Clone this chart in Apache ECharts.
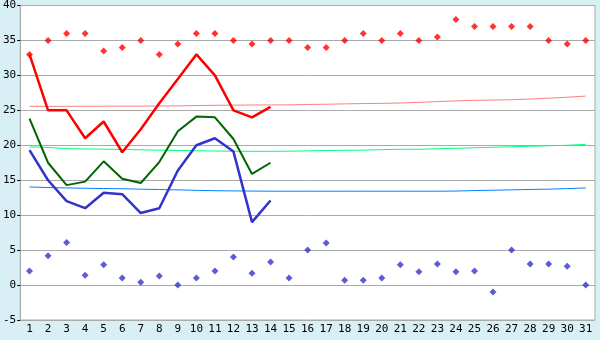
<!DOCTYPE html>
<html><head><meta charset="utf-8">
<script src="https://cdn.jsdelivr.net/npm/echarts@6/dist/echarts.min.js"></script>
<style>html,body{margin:0;padding:0;background:#d9eff6;}#c{width:600px;height:340px;}</style>
</head><body><div id="c"></div>
<script>
var days = [];
for (var i = 1; i <= 31; i++) days.push(String(i));
var yTicks = {min: -5, max: 40, step: 5};

var maxPoints = [33,35,36,36,33.5,34,35,33,34.5,36,36,35,34.5,35,35,34,34,35,36,35,36,35,35.5,38,37,37,37,37,35,34.5,35];
var minPoints = [2,4.2,6.1,1.4,2.9,1,0.4,1.3,0,1,2,4,1.7,3.3,1,5,6,0.7,0.7,1,2.9,1.9,3,1.9,2,-1,5,3,3,2.7,0];

var redLine   = [33,25,25,21,23.4,19,22.3,26,29.5,33,30,25,24,25.5];
var greenLine = [23.8,17.5,14.3,14.8,17.7,15.2,14.6,17.6,22,24.1,24,20.9,15.9,17.5];
var blueLine  = [19.3,15,12,11,13.2,13,10.3,11,16.4,20,21,19.1,9,12.1];

var redTrend   = [25.57,25.57,25.58,25.58,25.59,25.6,25.6,25.62,25.64,25.68,25.72,25.74,25.76,25.77,25.78,25.84,25.87,25.92,25.97,26.0,26.05,26.14,26.25,26.35,26.43,26.47,26.52,26.62,26.74,26.87,27.04];
var greenTrend = [19.76,19.7,19.52,19.47,19.45,19.4,19.35,19.3,19.25,19.22,19.18,19.15,19.14,19.14,19.15,19.2,19.25,19.28,19.3,19.38,19.43,19.43,19.5,19.57,19.65,19.72,19.78,19.86,19.93,20.0,20.14];
var blueTrend  = [14.04,13.95,13.9,13.85,13.81,13.78,13.72,13.67,13.62,13.55,13.5,13.47,13.45,13.43,13.43,13.43,13.43,13.43,13.43,13.43,13.43,13.43,13.43,13.45,13.52,13.57,13.62,13.68,13.72,13.8,13.9];

var chart = echarts.init(document.getElementById('c'));
var font = 'DejaVu Sans Mono';
function trend(d, c) {
  return {type: 'line', data: d, symbol: 'none', silent: true, z: 1,
    lineStyle: {color: c, width: 1}};
}
function line(d, c, w) {
  return {type: 'line', data: d, symbol: 'none', z: 3,
    lineStyle: {color: c, width: w}};
}
function pts(d, c) {
  return {type: 'scatter', data: d, symbol: 'diamond', symbolSize: 7, z: 4,
    itemStyle: {color: c}};
}
chart.setOption({
  backgroundColor: '#d9eff6',
  animation: false,
  grid: {left: 20, right: 5, top: 5, bottom: 20, show: true, backgroundColor: '#ffffff', borderColor: '#aaaaaa', borderWidth: 1},
  xAxis: {
    type: 'category', data: days, boundaryGap: true,
    axisLine: {lineStyle: {color: '#aaaaaa'}},
    axisTick: {alignWithLabel: true, length: 5, lineStyle: {color: '#000'}},
    axisLabel: {color: '#000', fontFamily: font, fontSize: 11, margin: 4, interval: 0},
    splitLine: {show: false}
  },
  yAxis: {
    type: 'value', min: yTicks.min, max: yTicks.max, interval: yTicks.step,
    axisLine: {show: true, lineStyle: {color: '#aaaaaa'}},
    axisTick: {show: true, length: 3, lineStyle: {color: '#000'}},
    axisLabel: {color: '#000', fontFamily: font, fontSize: 11, margin: 4},
    splitLine: {lineStyle: {color: '#aaaaaa', width: 1}}
  },
  series: [
    trend(redTrend, '#ff8080'),
    trend(greenTrend, '#00ff80'),
    trend(blueTrend, '#0080ff'),
    line(redLine, '#ff0000', 2.5),
    line(greenLine, '#006600', 2),
    line(blueLine, '#3333cc', 2.5),
    pts(maxPoints, '#ff0000'),
    pts(minPoints, '#3333cc')
  ]
});
</script>
</body></html>
